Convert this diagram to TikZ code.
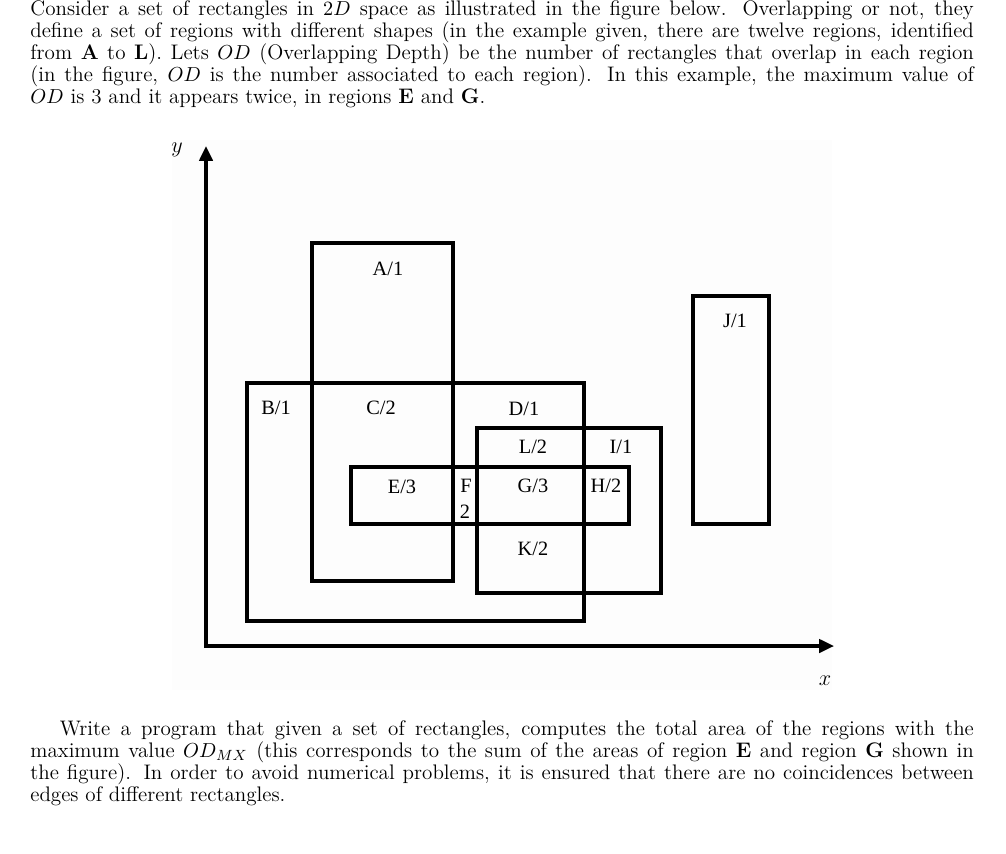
\documentclass[tikz,border=0pt]{standalone}
\usepackage{fontspec}
\usetikzlibrary{arrows.meta}
\newfontfamily\labfont{Liberation Serif}
\begin{document}
\begin{tikzpicture}[x=0.54054pt,y=-0.54054pt,
  rect/.style={draw=black,line width=1.8pt},
  lbl/.style={font=\labfont\fontsize{11}{13}\selectfont,inner sep=0pt},
  axislbl/.style={font=\fontsize{12}{14}\selectfont,inner sep=0pt},
  axes/.style={line width=1.7pt,{Triangle[length=8.1pt,width=7.3pt]}-{Triangle[length=8.1pt,width=7.3pt]}},
  para/.style={inner sep=0pt,anchor=base west}
]
\useasboundingbox (0,0) rectangle (1006,853);
\fill[white] (0,0) rectangle (1006,853);
\fill[black!0.8] (172,140) rectangle (832,690);

% text above
\node[para] (top) at (30,15) {\begin{minipage}[t]{510pt}\fontsize{11.38}{12.0}\selectfont
Consider a set of rectangles in $2D$ space as illustrated in the figure below.  Overlapping or not, they\linebreak
define a set of regions with different shapes (in the example given, there are twelve regions, identified\linebreak
from \textbf{A} to \textbf{L}). Lets $OD$ (Overlapping Depth) be the number of rectangles that overlap in each region\linebreak
(in the figure, $OD$ is the number associated to each region).  In this example, the maximum value of\linebreak
$OD$ is 3 and it appears twice, in regions \textbf{E} and \textbf{G}.
\end{minipage}};

% text below
\node[para] (bottom) at (30,735) {\begin{minipage}[t]{510pt}\fontsize{11.38}{12.0}\selectfont
\hspace*{16pt}Write a program that given a set of rectangles, computes the total area of the regions with the\linebreak
maximum value $OD_{MX}$ (this corresponds to the sum of the areas of region \textbf{E} and region \textbf{G} shown in\linebreak
the figure). In order to avoid numerical problems, it is ensured that there are no coincidences between\linebreak
edges of different rectangles.
\end{minipage}};

% axes
\coordinate (ytip) at (206,146);
\coordinate (O) at (206,646);
\coordinate (xtip) at (834,646);
\draw[axes] (ytip) -- (O) -- (xtip);
\node[axislbl] (ylab) at (177,150) {$y$};
\node[axislbl] (xlab) at (825,681) {$x$};

% rectangles
\draw[rect] (312,243) rectangle (453,581);
\draw[rect] (247,383) rectangle (584,621);
\draw[rect] (351,467) rectangle (629,524);
\draw[rect] (477,428) rectangle (661,593);
\draw[rect] (693,296) rectangle (769,524);

% region labels
\node[lbl] (lA) at (388,269) {A/1};
\node[lbl] (lB) at (276,408) {B/1};
\node[lbl] (lC) at (381,408) {C/2};
\node[lbl] (lD) at (524,409) {D/1};
\node[lbl] (lE) at (402,487) {E/3};
\node[lbl] (lF) at (466,486) {F};
\node[lbl] (lF2) at (465,512) {2};
\node[lbl] (lG) at (533,486) {G/3};
\node[lbl] (lH) at (606,486) {H/2};
\node[lbl] (lI) at (621,447) {I/1};
\node[lbl] (lJ) at (735,321) {J/1};
\node[lbl] (lK) at (533,549) {K/2};
\node[lbl] (lL) at (533,447) {L/2};
\end{tikzpicture}
\end{document}
